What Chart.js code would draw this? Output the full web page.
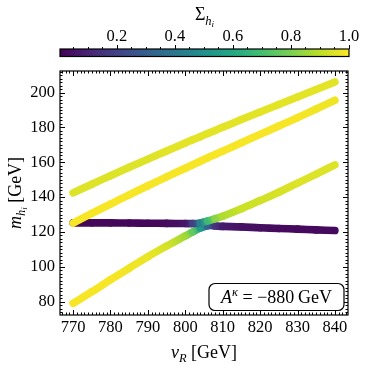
<!DOCTYPE html>
<html>
<head>
<meta charset="utf-8">
<script src="https://cdn.jsdelivr.net/npm/chart.js@4.4.1/dist/chart.umd.min.js"></script>
<style>
  html, body { margin: 0; padding: 0; background: #fff; }
  #wrap { position: relative; width: 365px; height: 365px; }
  #wrap canvas { position: absolute; left: 0; top: 0; }
</style>
</head>
<body>
<div id="wrap">
  <canvas id="main" width="365" height="365"></canvas>
  <canvas id="cbar" width="365" height="62"></canvas>
</div>
<script>
// --- data ---
const vR = [770, 775, 780, 785, 790, 795, 800, 802, 804, 806, 808, 810, 815, 820, 825, 830, 835, 840];

// masses, ordered h1 < h2 < h3 < h4
const mH1 = [79.0, 85.6, 92.5, 99.2, 105.8, 111.9, 117.7, 120.0, 122.2, 123.6, 123.4, 123.2, 122.9, 122.4, 122.0, 121.6, 121.2, 120.8];
const mH2 = [125.2, 125.2, 125.2, 125.1, 125.0, 124.9, 124.8, 124.8, 125.2, 126.3, 127.6, 129.0, 133.3, 138.0, 142.8, 148.0, 153.2, 158.5];
const mH3 = [125.1, 130.6, 136.0, 141.3, 146.5, 151.6, 156.6, 158.6, 160.6, 162.6, 164.5, 166.4, 171.2, 176.0, 180.8, 185.6, 190.6, 195.6];
const mH4 = [142.4, 147.4, 152.3, 157.1, 161.8, 166.5, 171.1, 172.9, 174.7, 176.5, 178.3, 180.1, 184.5, 188.9, 193.2, 197.5, 201.8, 206.1];

// colour value Sigma_{h_i}
const sH1 = [0.99, 0.99, 0.99, 0.98, 0.97, 0.94, 0.86, 0.76, 0.56, 0.32, 0.15, 0.08, 0.05, 0.04, 0.03, 0.03, 0.03, 0.03];
const sH2 = [0.02, 0.02, 0.02, 0.02, 0.02, 0.03, 0.06, 0.18, 0.44, 0.68, 0.82, 0.88, 0.92, 0.93, 0.94, 0.95, 0.95, 0.95];
const sH3 = [0.99, 0.99, 0.99, 0.99, 0.99, 0.99, 0.99, 0.99, 0.99, 0.99, 0.99, 0.99, 0.99, 0.99, 0.99, 0.99, 0.98, 0.98];
const sH4 = [0.95, 0.95, 0.95, 0.95, 0.95, 0.96, 0.96, 0.96, 0.96, 0.96, 0.96, 0.96, 0.96, 0.96, 0.96, 0.96, 0.96, 0.96];

const xTicks = [770, 780, 790, 800, 810, 820, 830, 840];
const yTicks = [80, 100, 120, 140, 160, 180, 200];
const cbTicks = [0.2, 0.4, 0.6, 0.8, 1.0];

const X_MIN = 766.5, X_MAX = 843.5;
const Y_MIN = 72.3, Y_MAX = 212.4;
const S_MIN = 0.004, S_MAX = 1.0;

const SERIF = '"Liberation Serif", "DejaVu Serif", serif';
const VIRIDIS = ['#440154', '#482475', '#414487', '#355f8d', '#2a788e', '#21918c',
                 '#22a884', '#44bf70', '#7ad151', '#bddf26', '#fde725'];

function hexRgb(h) {
    return [parseInt(h.slice(1, 3), 16), parseInt(h.slice(3, 5), 16), parseInt(h.slice(5, 7), 16)];
}
function viridis(t) {
    t = Math.max(0, Math.min(1, t));
    const k = t * 10, i = Math.min(9, Math.floor(k)), f = k - i;
    const a = hexRgb(VIRIDIS[i]), b = hexRgb(VIRIDIS[i + 1]);
    const c = a.map((v, j) => Math.round(v + (b[j] - v) * f));
    return `rgb(${c[0]},${c[1]},${c[2]})`;
}
function sigmaColor(s) {
    return viridis((s - S_MIN) / (S_MAX - S_MIN));
}

// draw a row of text pieces (math-like: italic, sub/superscripts)
function drawRuns(ctx, runs, x, y) {
    let w = 0;
    runs.forEach(r => { ctx.font = r.font; r.w = ctx.measureText(r.t).width; w += r.w; });
    let cx = x - w / 2;
    ctx.textAlign = 'left';
    ctx.textBaseline = 'alphabetic';
    runs.forEach(r => { ctx.font = r.font; ctx.fillText(r.t, cx, y + (r.dy || 0)); cx += r.w; });
}

function makeSet(ys, sig, order) {
    const cols = sig.map(sigmaColor);
    return {
        data: vR.map((x, i) => ({ x: x, y: ys[i] })),
        borderWidth: 7.6,
        borderCapStyle: 'round',
        borderJoinStyle: 'round',
        pointRadius: 0,
        tension: 0.35,
        showLine: true,
        order: order,
        borderColor: cols[0],
        segment: {
            borderColor: c => {
                const g = c.chart.ctx.createLinearGradient(c.p0.x, c.p0.y, c.p1.x, c.p1.y);
                g.addColorStop(0, cols[c.p0DataIndex]);
                g.addColorStop(1, cols[c.p1DataIndex]);
                return g;
            }
        }
    };
}

// ticks inward on all four sides, plus frame, labels and the text box
const framePlugin = {
    id: 'frame',
    afterDatasetsDraw(chart) {
        const ctx = chart.ctx, a = chart.chartArea;
        const xs = chart.scales.x, ys = chart.scales.y;
        ctx.save();
        ctx.strokeStyle = '#000';
        ctx.lineWidth = 1;
        ctx.beginPath();
        for (let v = 767; v <= 843; v += 1) {
            const px = Math.round(xs.getPixelForValue(v)) + 0.5;
            const len = v % 10 === 0 ? 5 : 2.5;
            ctx.moveTo(px, a.bottom); ctx.lineTo(px, a.bottom - len);
            ctx.moveTo(px, a.top); ctx.lineTo(px, a.top + len);
        }
        for (let v = 74; v <= 212; v += 2) {
            const py = Math.round(ys.getPixelForValue(v)) + 0.5;
            const len = v % 20 === 0 ? 5 : 2.5;
            ctx.moveTo(a.left, py); ctx.lineTo(a.left + len, py);
            ctx.moveTo(a.right, py); ctx.lineTo(a.right - len, py);
        }
        ctx.stroke();
        ctx.lineWidth = 1.2;
        ctx.strokeRect(a.left, a.top, a.right - a.left, a.bottom - a.top);

        // annotation box
        const bx = 209, by = 283.5, bw = 135, bh = 27;
        ctx.beginPath();
        ctx.roundRect(bx, by, bw, bh, 6);
        ctx.fillStyle = '#fff';
        ctx.fill();
        ctx.lineWidth = 1.2;
        ctx.stroke();
        ctx.fillStyle = '#000';
        drawRuns(ctx, [
            { t: 'A', font: 'italic 18px ' + SERIF },
            { t: 'κ', font: 'italic 12.5px ' + SERIF, dy: -7 },
            { t: ' = −880\u2009GeV', font: '18px ' + SERIF }
        ], bx + bw / 2, by + bh / 2 + 6);

        // axis titles
        drawRuns(ctx, [
            { t: 'v', font: 'italic 18px ' + SERIF },
            { t: 'R', font: 'italic 12.5px ' + SERIF, dy: 3.5 },
            { t: ' [GeV]', font: '18px ' + SERIF }
        ], (a.left + a.right) / 2, 358);

        ctx.translate(21, (a.top + a.bottom) / 2);
        ctx.rotate(-Math.PI / 2);
        drawRuns(ctx, [
            { t: 'm', font: 'italic 18px ' + SERIF },
            { t: 'h', font: 'italic 12.5px ' + SERIF, dy: 3.5 },
            { t: 'i', font: 'italic 9px ' + SERIF, dy: 6 },
            { t: ' [GeV]', font: '18px ' + SERIF }
        ], 0, 0);
        ctx.restore();
    }
};

new Chart(document.getElementById('main'), {
    type: 'scatter',
    data: {
        datasets: [
            makeSet(mH1, sH1, 4),
            makeSet(mH2, sH2, 3),
            makeSet(mH3, sH3, 2),
            makeSet(mH4, sH4, 1)
        ]
    },
    options: {
        responsive: false,
        animation: false,
        layout: { padding: { top: 71, right: 17, left: 0, bottom: 0 } },
        plugins: { legend: { display: false }, tooltip: { enabled: false } },
        scales: {
            x: {
                type: 'linear', min: X_MIN, max: X_MAX,
                afterBuildTicks: s => { s.ticks = xTicks.map(v => ({ value: v })); },
                afterFit: s => { s.height = 50; },
                grid: { display: false, drawTicks: false },
                border: { display: false },
                ticks: { color: '#000', padding: 3, maxRotation: 0, font: { family: SERIF, size: 16.5 } }
            },
            y: {
                type: 'linear', min: Y_MIN, max: Y_MAX,
                afterBuildTicks: s => { s.ticks = yTicks.map(v => ({ value: v })); },
                afterFit: s => { s.width = 60; },
                grid: { display: false, drawTicks: false },
                border: { display: false },
                ticks: { color: '#000', padding: 5, font: { family: SERIF, size: 16.5 } }
            }
        }
    },
    plugins: [framePlugin]
});

// colour bar
const cbarPlugin = {
    id: 'cbarPaint',
    beforeDatasetsDraw(chart) {
        const ctx = chart.ctx, a = chart.chartArea, xs = chart.scales.x;
        ctx.save();
        const g = ctx.createLinearGradient(a.left, 0, a.right, 0);
        VIRIDIS.forEach((c, i) => g.addColorStop(i / 10, c));
        ctx.fillStyle = g;
        ctx.fillRect(a.left, a.top, a.right - a.left, a.bottom - a.top);
        ctx.strokeStyle = '#000';
        ctx.lineWidth = 1.2;
        ctx.strokeRect(a.left, a.top, a.right - a.left, a.bottom - a.top);
        ctx.lineWidth = 1;
        ctx.beginPath();
        for (let k = 1; k <= 20; k++) {
            const v = k * 0.05;
            const px = Math.round(xs.getPixelForValue(v)) + 0.5;
            const len = k % 4 === 0 ? 4 : 2;
            ctx.moveTo(px, a.top); ctx.lineTo(px, a.top - len);
        }
        ctx.stroke();
        ctx.fillStyle = '#000';
        drawRuns(ctx, [
            { t: 'Σ', font: '18px ' + SERIF },
            { t: 'h', font: 'italic 12.5px ' + SERIF, dy: 4.5 },
            { t: 'i', font: 'italic 9px ' + SERIF, dy: 7 }
        ], (a.left + a.right) / 2, 20);
        ctx.restore();
    }
};

new Chart(document.getElementById('cbar'), {
    type: 'scatter',
    data: { datasets: [] },
    options: {
        responsive: false,
        animation: false,
        layout: { padding: { top: 0, right: 16, left: 60, bottom: 5.5 } },
        plugins: { legend: { display: false }, tooltip: { enabled: false } },
        scales: {
            x: {
                type: 'linear', position: 'top', min: S_MIN, max: S_MAX,
                afterBuildTicks: s => { s.ticks = cbTicks.map(v => ({ value: v })); },
                afterFit: s => { s.height = 49; },
                grid: { display: false, drawTicks: false },
                border: { display: false },
                ticks: { color: '#000', padding: 2, maxRotation: 0, callback: v => v.toFixed(1),
                         font: { family: SERIF, size: 16.5 } }
            },
            y: { display: false, min: 0, max: 1 }
        }
    },
    plugins: [cbarPlugin]
});
</script>
</body>
</html>
